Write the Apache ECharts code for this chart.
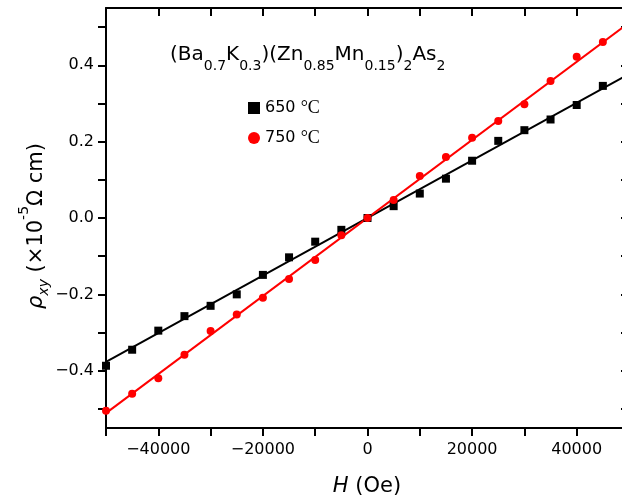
<!DOCTYPE html>
<html>
<head>
<meta charset="utf-8">
<script src="https://cdn.jsdelivr.net/npm/echarts@6/dist/echarts.min.js"></script>
<style>html,body{margin:0;padding:0;background:#fff;overflow:hidden;}#c{width:622px;height:496px;}</style>
</head>
<body>
<div id="c"></div>
<script>
// Field H (Oe)
var fieldH = [-50000,-45000,-40000,-35000,-30000,-25000,-20000,-15000,-10000,-5000,0,5000,10000,15000,20000,25000,30000,35000,40000,45000];
// rho_xy (x10^-5 Ohm cm)
var rho650 = [-0.387,-0.345,-0.295,-0.257,-0.230,-0.200,-0.149,-0.103,-0.062,-0.031,0.000,0.031,0.064,0.103,0.150,0.202,0.230,0.258,0.296,0.346];
var rho750 = [-0.505,-0.460,-0.420,-0.358,-0.296,-0.253,-0.209,-0.160,-0.110,-0.045,0.000,0.047,0.110,0.160,0.210,0.254,0.298,0.359,0.422,0.461];
// Linear fit lines (end points)
var fitH = [-50000, 50000];
var fit650 = [-0.377, 0.377];
var fit750 = [-0.511, 0.511];
// Axis ticks
var xLabelValues = [-40000,-20000,0,20000,40000];
var yTickValues = [-0.5,-0.4,-0.3,-0.2,-0.1,0,0.1,0.2,0.3,0.4,0.5];
var yLabelValues = [-0.4,-0.2,0,0.2,0.4];
var seriesNames = ['650', '750'];

function pairs(xs, ys){ return xs.map(function(x,i){return [x, ys[i]];}); }
function minus(s){ return String(s).replace('-', '\u2212'); }

var FONT = 'DejaVu Sans';
var chart = echarts.init(document.getElementById('c'), null, {renderer:'canvas'});
var axLine = {onZero:false, lineStyle:{color:'#000', width:2}};
var option = {
  animation:false,
  backgroundColor:'#fff',
  grid:{left:106, width:523, top:8, height:420, containLabel:false, outerBoundsMode:'none'},
  xAxis:[{
    type:'value', min:-50000, max:50000, interval:10000, position:'bottom',
    axisLine:axLine, splitLine:{show:false},
    axisTick:{show:true, inside:false, length:8, lineStyle:{width:2,color:'#000'}},
    axisLabel:{margin:14, fontFamily:FONT, fontSize:16, color:'#000',
      formatter:function(v){ return xLabelValues.indexOf(v)>=0 ? minus(v) : ''; }}
  },{
    type:'value', min:-50000, max:50000, interval:10000, position:'top',
    axisLine:axLine, splitLine:{show:false},
    axisTick:{show:true, inside:true, length:8, lineStyle:{width:2,color:'#000'}},
    axisLabel:{show:false}
  }],
  yAxis:[{
    type:'value', min:-0.55, max:0.55, position:'left',
    axisLine:axLine, splitLine:{show:false},
    axisTick:{show:true, inside:false, length:8, customValues:yTickValues, lineStyle:{width:2,color:'#000'}},
    axisLabel:{margin:12, fontFamily:FONT, fontSize:16, color:'#000', customValues:yLabelValues,
      formatter:function(v){ return minus(v.toFixed(1)); }}
  },{
    type:'value', min:-0.55, max:0.55, position:'right',
    axisLine:axLine, splitLine:{show:false},
    axisTick:{show:true, inside:true, length:8, customValues:yTickValues, lineStyle:{width:2,color:'#000'}},
    axisLabel:{show:false}
  }],
  legend:{
    data:[{name:seriesNames[0], icon:'rect'},{name:seriesNames[1], icon:'circle'}],
    orient:'vertical', left:243, top:94, itemWidth:12, itemHeight:12, itemGap:12,
    formatter:function(n){ return '{n|'+n+' }{c|\u00B0C}'; },
    textStyle:{rich:{n:{fontFamily:FONT, fontSize:16, color:'#000', lineHeight:22},
                     c:{fontFamily:'Liberation Serif', fontSize:18, color:'#000', lineHeight:22}}}
  },
  series:[
    {name:seriesNames[0], type:'scatter', symbol:'rect', symbolSize:8, itemStyle:{color:'#000', opacity:1}, data:pairs(fieldH, rho650), z:3},
    {name:seriesNames[1], type:'scatter', symbol:'circle', symbolSize:8, itemStyle:{color:'#ff0000', opacity:1}, data:pairs(fieldH, rho750), z:3},
    {name:'fit650', type:'line', showSymbol:false, symbol:'none', lineStyle:{color:'#000', width:2}, data:pairs(fitH, fit650), z:2},
    {name:'fit750', type:'line', showSymbol:false, symbol:'none', lineStyle:{color:'#ff0000', width:2}, data:pairs(fitH, fit750), z:2}
  ],
  graphic:[
    {type:'text', x:170, y:45, style:{
      text:'{m|(Ba}{s|0.7}{m|K}{s|0.3}{m|)(Zn}{s|0.85}{m|Mn}{s|0.15}{m|)}{s|2}{m|As}{s|2}',
      textAlign:'left', textVerticalAlign:'top',
      rich:{m:{fontFamily:FONT, fontSize:20, lineHeight:24, verticalAlign:'top', fill:'#000'},
            s:{fontFamily:FONT, fontSize:14, lineHeight:16, padding:[14,0,0,0], verticalAlign:'top', fill:'#000'}}
    }},
    {type:'text', x:367, y:487, style:{
      text:'{i|H}{m| (Oe)}', textAlign:'center', textVerticalAlign:'middle',
      rich:{i:{fontFamily:FONT, fontSize:21, fontStyle:'italic', fill:'#000'},
            m:{fontFamily:FONT, fontSize:21, fill:'#000'}}
    }},
    {type:'text', x:26, y:226, rotation:Math.PI/2, style:{
      text:'{i|\u03C1}{b|xy}{m| (\u00D710}{p|-5}{m|\u03A9 cm)}', textAlign:'center', textVerticalAlign:'middle',
      rich:{i:{fontFamily:FONT, fontSize:21, fontStyle:'italic', lineHeight:24, padding:[12,0,0,0], verticalAlign:'top', fill:'#000'},
            b:{fontFamily:FONT, fontSize:14, fontStyle:'italic', lineHeight:16, padding:[23,0,0,0], verticalAlign:'top', fill:'#000'},
            m:{fontFamily:FONT, fontSize:21, lineHeight:24, padding:[12,0,0,0], verticalAlign:'top', fill:'#000'},
            p:{fontFamily:FONT, fontSize:14, lineHeight:16, padding:[3,0,0,0], verticalAlign:'top', fill:'#000'}}
    }}
  ]
};
chart.setOption(option);
</script>
</body>
</html>
